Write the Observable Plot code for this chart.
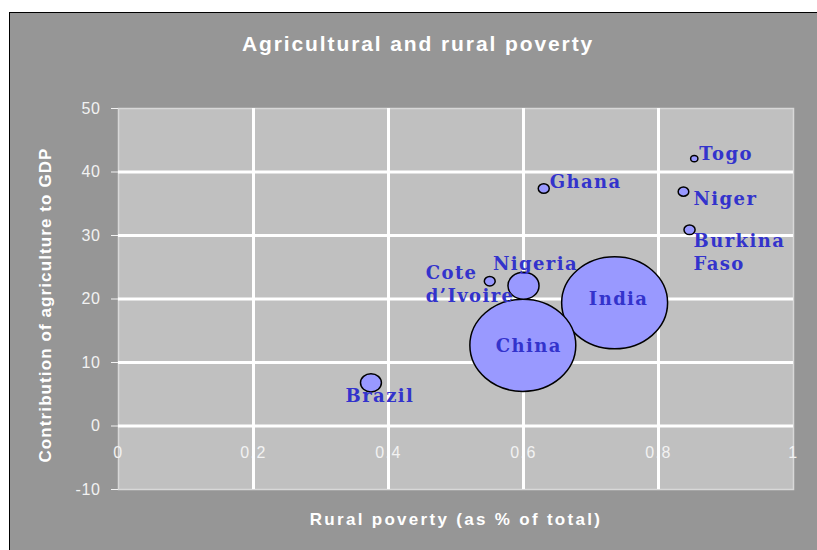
<!DOCTYPE html>
<html>
<head>
<meta charset="utf-8">
<script src="https://cdn.jsdelivr.net/npm/d3@7"></script>
<script src="https://cdn.jsdelivr.net/npm/@observablehq/plot@0.6"></script>
<style>
  html, body { margin: 0; padding: 0; background: #ffffff; }
  #box {
    position: absolute; left: 9px; top: 12px; width: 808px; height: 538px;
    box-sizing: border-box; border: 1px solid #000; border-right: none; border-bottom: none;
    background: #969696; overflow: hidden;
  }
  g[font-family="Liberation Sans, Arial, sans-serif"] { letter-spacing: 1.5px; }
  g[font-family="Arial, Liberation Sans, sans-serif"] { letter-spacing: 2.3px; }
  g[font-family="Arial, Liberation Sans, Helvetica"] { letter-spacing: 0.6px; }
  g[font-family="Arial, Helvetica, sans-serif"] { letter-spacing: 1.9px; }
  g[font-family="Helvetica, Arial, sans-serif"] { letter-spacing: 1.1px; }
  g[font-family="DejaVu Serif, serif"] { letter-spacing: 1.4px; }
</style>
</head>
<body>
<div id="box"></div>
<script>
// ---- data ----
const countries      = ["Togo", "Ghana", "Niger", "Burkina\nFaso", "Cote\nd’Ivoire", "Nigeria", "India", "China", "Brazil"];
const ruralPoverty   = [0.853, 0.630, 0.837, 0.846, 0.550, 0.600, 0.735, 0.599, 0.374];
const agricultureGDP = [42.1, 37.4, 36.9, 30.9, 22.8, 22.1, 19.4, 12.7, 6.8];
const bubbleSize     = [4.7, 10.8, 10, 11, 10.5, 86, 1000, 1000, 39];

const xTicks = [0, 0.2, 0.4, 0.6, 0.8, 1];
const xTickLabels = ["0", "0.2", "0.4", "0.6", "0.8", "1"];
const yTicks = [-10, 0, 10, 20, 30, 40, 50];
const yGrid = [10, 20, 30, 40];
const xGrid = [0.2, 0.4, 0.6, 0.8];

const titleText = "Agricultural and rural poverty";
const xTitle = "Rural poverty (as % of total)";
const yTitle = "Contribution of agriculture to GDP";

// label placement (pixel offsets from each bubble centre)
const labelDx     = [5, 6, 10, 4, -64, 12, 4, 6, 9];
const labelDy     = [-6, -8, 6, 21, 2, -23, -5, -1, 12];
const labelAnchor = ["start", "start", "start", "start", "start", "middle", "middle", "middle", "middle"];

const rows = countries.map((c, i) => ({ name: c, x: ruralPoverty[i], y: agricultureGDP[i], s: bubbleSize[i] }));

// ellipse-shaped symbol (Excel bubbles are slightly wider than tall)
const ellipse = {
  draw(ctx, size) {
    const r = Math.sqrt(size / Math.PI);
    const rx = r * 1.07, ry = r * 0.93, k = 0.5523;
    ctx.moveTo(rx, 0);
    ctx.bezierCurveTo(rx, ry * k, rx * k, ry, 0, ry);
    ctx.bezierCurveTo(-rx * k, ry, -rx, ry * k, -rx, 0);
    ctx.bezierCurveTo(-rx, -ry * k, -rx * k, -ry, 0, -ry);
    ctx.bezierCurveTo(rx * k, -ry, rx, -ry * k, rx, 0);
    ctx.closePath();
  }
};

const labelFont = "DejaVu Serif, serif";
const labelColor = "#3333cc";

const labelMarks = rows.map((row, i) =>
  Plot.text([row], { x: "x", y: "y", text: "name", dx: labelDx[i], dy: labelDy[i], textAnchor: labelAnchor[i],
    fill: labelColor, fontFamily: labelFont, fontWeight: "bold", fontSize: 18, lineHeight: 1.28 })
);

const chart = Plot.plot({
  width: 806,
  height: 536,
  marginLeft: 108,
  marginRight: 23,
  marginTop: 95,
  marginBottom: 60,
  style: { background: "transparent", color: "#f2f2f2", fontSize: "16px", fontFamily: "Liberation Sans, Arial, sans-serif" },
  x: { domain: [0, 1], axis: null },
  y: { domain: [-10, 50], axis: null },
  r: { type: "sqrt", domain: [0, 1000], range: [0, 49.5] },
  marks: [
    Plot.frame({ fill: "#c0c0c0", stroke: "#d8d8d8", strokeWidth: 1.5 }),
    // x tick labels sit just below the y = 0 axis line (drawn under the gridlines)
    Plot.text(xTicks, { x: d => d, y: 0, text: (d, i) => xTickLabels[i], dy: 27, fill: "#f2f2f2",
      fontFamily: "Liberation Sans, Arial, sans-serif", fontSize: 16 }),
    Plot.ruleX(xGrid, { stroke: "#ffffff", strokeWidth: 3 }),
    Plot.ruleY(yGrid, { stroke: "#ffffff", strokeWidth: 3 }),
    Plot.ruleY([0], { stroke: "#ffffff", strokeWidth: 3 }),
    Plot.axisY(yTicks, { ticks: yTicks, tickFormat: d => String(d), tickSize: 7, tickPadding: 11, fontSize: 16,
      fontFamily: "Arial, Liberation Sans, Helvetica", label: null, stroke: "#f2f2f2", color: "#f2f2f2" }),
    Plot.dot(rows, { x: "x", y: "y", r: "s", symbol: ellipse, fill: "#9999ff", stroke: "#000000", strokeWidth: 1.5,
      sort: { channel: "r", order: "descending" } }),
    ...labelMarks,
    // titles
    Plot.text([titleText], { frameAnchor: "top", textAnchor: "middle", dx: -38, dy: -72, fill: "#ffffff", fontWeight: "bold", fontSize: 21,
      fontFamily: "Arial, Helvetica, sans-serif" }),
    Plot.text([xTitle], { frameAnchor: "bottom", textAnchor: "middle", dy: 35, fill: "#ffffff", fontWeight: "bold", fontSize: 17,
      fontFamily: "Arial, Liberation Sans, sans-serif" }),
    Plot.text([yTitle], { frameAnchor: "left", textAnchor: "middle", dx: -73, dy: 6, rotate: -90, fill: "#ffffff", fontWeight: "bold", fontSize: 17,
      fontFamily: "Helvetica, Arial, sans-serif" })
  ]
});

document.getElementById("box").appendChild(chart);
</script>
</body>
</html>
